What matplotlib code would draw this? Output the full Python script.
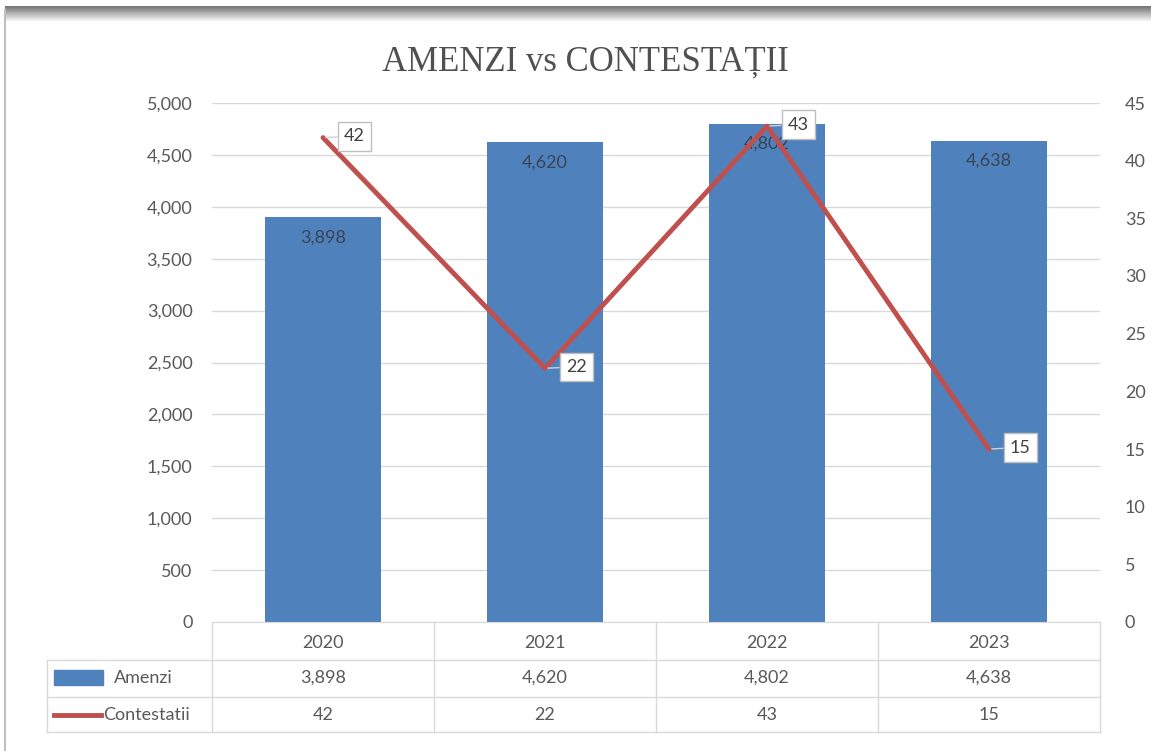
import numpy as np
import matplotlib
matplotlib.use("Agg")
import matplotlib.pyplot as plt
from matplotlib.patches import Rectangle
from matplotlib.lines import Line2D

# date
ani = ["2020", "2021", "2022", "2023"]
amenzi = [3898, 4620, 4802, 4638]
contestatii = [42, 22, 43, 15]
left_ticks = [0, 500, 1000, 1500, 2000, 2500, 3000, 3500, 4000, 4500, 5000]
right_ticks = [0, 5, 10, 15, 20, 25, 30, 35, 40, 45]

albastru = "#4F81BD"
rosu = "#C0504D"
text_gri = "#595959"
grila = "#D9D9D9"

plt.rcParams['font.family'] = ['Lato', 'DejaVu Sans']
fs = 13

fig = plt.figure(figsize=(11.51, 7.51), dpi=100)
W, H = 1151, 751

# umbra de sus si marginea din stanga (captura de ecran)
grad = fig.add_axes([5 / W, 1 - 22 / H, 1 - 5 / W, 16 / H])
grad.imshow(np.linspace(0.45, 1.0, 50).reshape(-1, 1), cmap="gray", vmin=0, vmax=1,
            aspect="auto", extent=[0, 1, 0, 1])
grad.axis("off")
fig.add_artist(Line2D([5 / W, 5 / W], [0, 1 - 10 / H], color="#BFBFBF", lw=1.5))

ax = fig.add_axes([212 / W, 1 - 622 / H, 888 / W, 519 / H])
x = np.arange(len(ani))

ax.bar(x, amenzi, width=0.52, color=albastru, zorder=2)
ax.set_xlim(-0.5, 3.5)
ax.set_ylim(0, 5000)
ax.set_yticks(left_ticks)
ax.set_yticklabels([f"{v:,}" for v in left_ticks])
ax.yaxis.grid(True, color=grila, lw=1)
ax.set_axisbelow(True)
for s in ["top", "right", "left"]:
    ax.spines[s].set_visible(False)
ax.spines["bottom"].set_color(grila)
ax.tick_params(axis="y", length=0, pad=14, labelsize=fs, labelcolor=text_gri)
ax.set_xticks([])

for xi, v in zip(x, amenzi):
    ax.text(xi, v - 120, f"{v:,}", ha="center", va="top", fontsize=fs, color="#3A4452", zorder=3)

ax2 = ax.twinx()
ax2.plot(x, contestatii, color=rosu, lw=3.5, solid_capstyle="round", zorder=4)
ax2.set_ylim(0, 45)
ax2.set_yticks(right_ticks)
for s in ["top", "right", "left", "bottom"]:
    ax2.spines[s].set_visible(False)
ax2.tick_params(axis="y", length=0, pad=18, labelsize=fs, labelcolor=text_gri)

for xi, v in zip(x, contestatii):
    ax2.annotate(str(v), (xi, v), xytext=(15, 1), textcoords="offset points",
                 ha="left", va="center", fontsize=fs, color="#404040",
                 bbox=dict(boxstyle="square,pad=0.35", fc="white", ec="#BFBFBF", lw=1),
                 arrowprops=dict(arrowstyle="-", color="#D0D0D0", lw=1, shrinkA=0, shrinkB=2),
                 zorder=5)

# tabelul de date
tr = ax.get_xaxis_transform()
ymid = [-0.0405, -0.108, -0.179]
linii = [0.0, -0.0732, -0.1445, -0.212]
xl = -1.243
for yy in linii[1:]:
    ax.plot([xl, 3.5], [yy, yy], transform=tr, color=grila, lw=1, clip_on=False)
for xv in [-0.5, 0.5, 1.5, 2.5, 3.5]:
    ax.plot([xv, xv], [0, linii[-1]], transform=tr, color=grila, lw=1, clip_on=False)
ax.plot([xl, xl], [linii[1], linii[-1]], transform=tr, color=grila, lw=1, clip_on=False)

for xi, a in zip(x, ani):
    ax.text(xi, ymid[0], a, transform=tr, ha="center", va="center", fontsize=fs, color=text_gri)
for xi, v in zip(x, amenzi):
    ax.text(xi, ymid[1], f"{v:,}", transform=tr, ha="center", va="center", fontsize=fs, color=text_gri)
for xi, v in zip(x, contestatii):
    ax.text(xi, ymid[2], str(v), transform=tr, ha="center", va="center", fontsize=fs, color=text_gri)

ax.add_patch(Rectangle((-1.21, -0.121), 0.22, 0.028, transform=tr, color=albastru, clip_on=False))
ax.text(-0.94, ymid[1], "Amenzi", transform=tr, ha="left", va="center", fontsize=fs, color=text_gri)
ax.plot([-1.21, -1.0], [ymid[2], ymid[2]], transform=tr, color=rosu, lw=3.5, clip_on=False)
ax.text(-0.99, ymid[2], "Contestatii", transform=tr, ha="left", va="center", fontsize=fs, color=text_gri)

fig.text(585 / W, 1 - 62 / H, "AMENZI vs CONTESTAȚII", ha="center", va="center",
         fontsize=25, color="#505050", family=["Liberation Serif", "DejaVu Serif"])

fig.savefig("out.png", dpi=100)
